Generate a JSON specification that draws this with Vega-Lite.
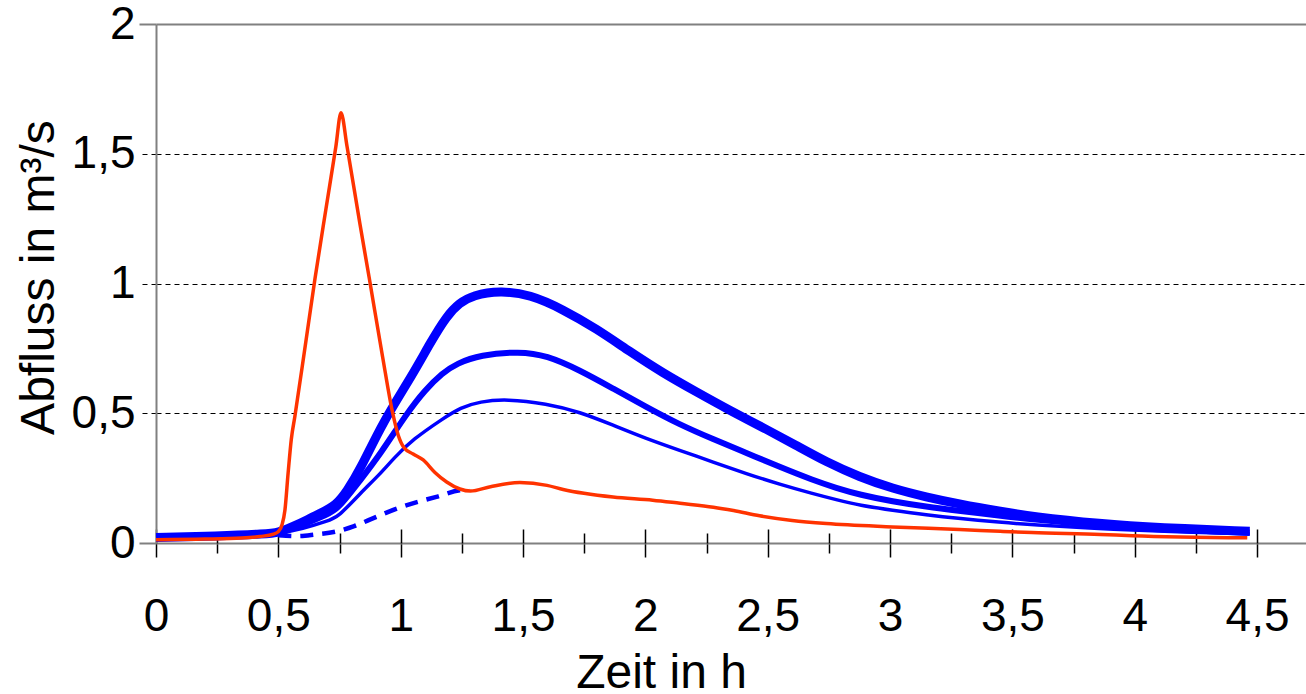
{
  "$schema": "https://vega.github.io/schema/vega-lite/v6.json",
  "width": 1150,
  "height": 519,
  "autosize": {"type": "none"},
  "padding": {"left": 156, "top": 24, "right": 0, "bottom": 151},
  "background": "white",
  "config": {
    "view": {"stroke": null},
    "font": "Liberation Sans",
    "axis": {
      "labelFont": "Liberation Sans",
      "titleFont": "Liberation Sans",
      "labelFontSize": 46,
      "titleFontSize": 48,
      "titleFontWeight": "normal",
      "labelColor": "#000000",
      "titleColor": "#000000"
    }
  },
  "data": {
    "values": [
      {"s": "A", "t": 0, "q": 0.021}, {"s": "A", "t": 0.25, "q": 0.027}, {"s": "A", "t": 0.45, "q": 0.035}, {"s": "A", "t": 0.5, "q": 0.04},
      {"s": "A", "t": 0.56, "q": 0.063}, {"s": "A", "t": 0.62, "q": 0.09}, {"s": "A", "t": 0.67, "q": 0.114}, {"s": "A", "t": 0.737, "q": 0.146},
      {"s": "A", "t": 0.78, "q": 0.2}, {"s": "A", "t": 0.833, "q": 0.28}, {"s": "A", "t": 0.928, "q": 0.468}, {"s": "A", "t": 1.05, "q": 0.65},
      {"s": "A", "t": 1.12, "q": 0.77}, {"s": "A", "t": 1.188, "q": 0.875}, {"s": "A", "t": 1.24, "q": 0.925}, {"s": "A", "t": 1.296, "q": 0.955},
      {"s": "A", "t": 1.405, "q": 0.972}, {"s": "A", "t": 1.528, "q": 0.958}, {"s": "A", "t": 1.664, "q": 0.9}, {"s": "A", "t": 1.8, "q": 0.826},
      {"s": "A", "t": 1.936, "q": 0.738}, {"s": "A", "t": 2.072, "q": 0.655}, {"s": "A", "t": 2.209, "q": 0.582}, {"s": "A", "t": 2.345, "q": 0.511},
      {"s": "A", "t": 2.481, "q": 0.445}, {"s": "A", "t": 2.617, "q": 0.376}, {"s": "A", "t": 2.74, "q": 0.312}, {"s": "A", "t": 2.876, "q": 0.254},
      {"s": "A", "t": 3.01, "q": 0.21}, {"s": "A", "t": 3.148, "q": 0.177}, {"s": "A", "t": 3.284, "q": 0.15}, {"s": "A", "t": 3.45, "q": 0.122},
      {"s": "A", "t": 3.58, "q": 0.102}, {"s": "A", "t": 3.86, "q": 0.074}, {"s": "A", "t": 4.1, "q": 0.059}, {"s": "A", "t": 4.47, "q": 0.045},

      {"s": "B", "t": 0, "q": 0.02}, {"s": "B", "t": 0.25, "q": 0.024}, {"s": "B", "t": 0.5, "q": 0.035}, {"s": "B", "t": 0.6, "q": 0.07},
      {"s": "B", "t": 0.7, "q": 0.11}, {"s": "B", "t": 0.745, "q": 0.132}, {"s": "B", "t": 0.833, "q": 0.24}, {"s": "B", "t": 0.918, "q": 0.344},
      {"s": "B", "t": 1.025, "q": 0.5}, {"s": "B", "t": 1.1, "q": 0.59}, {"s": "B", "t": 1.17, "q": 0.655}, {"s": "B", "t": 1.23, "q": 0.692},
      {"s": "B", "t": 1.324, "q": 0.725}, {"s": "B", "t": 1.487, "q": 0.738}, {"s": "B", "t": 1.596, "q": 0.723}, {"s": "B", "t": 1.732, "q": 0.666},
      {"s": "B", "t": 1.868, "q": 0.595}, {"s": "B", "t": 2.004, "q": 0.524}, {"s": "B", "t": 2.14, "q": 0.456}, {"s": "B", "t": 2.277, "q": 0.4},
      {"s": "B", "t": 2.413, "q": 0.347}, {"s": "B", "t": 2.549, "q": 0.293}, {"s": "B", "t": 2.685, "q": 0.242}, {"s": "B", "t": 2.78, "q": 0.212},
      {"s": "B", "t": 2.876, "q": 0.186}, {"s": "B", "t": 3.01, "q": 0.16}, {"s": "B", "t": 3.148, "q": 0.14}, {"s": "B", "t": 3.284, "q": 0.124},
      {"s": "B", "t": 3.45, "q": 0.105}, {"s": "B", "t": 3.58, "q": 0.091}, {"s": "B", "t": 3.86, "q": 0.066}, {"s": "B", "t": 4.1, "q": 0.052},
      {"s": "B", "t": 4.47, "q": 0.04},

      {"s": "C", "t": 0, "q": 0.02}, {"s": "C", "t": 0.25, "q": 0.023}, {"s": "C", "t": 0.5, "q": 0.033}, {"s": "C", "t": 0.6, "q": 0.055},
      {"s": "C", "t": 0.7, "q": 0.085}, {"s": "C", "t": 0.745, "q": 0.1}, {"s": "C", "t": 0.833, "q": 0.19}, {"s": "C", "t": 0.918, "q": 0.268},
      {"s": "C", "t": 0.97, "q": 0.325}, {"s": "C", "t": 1.05, "q": 0.4}, {"s": "C", "t": 1.174, "q": 0.48}, {"s": "C", "t": 1.244, "q": 0.522},
      {"s": "C", "t": 1.324, "q": 0.545}, {"s": "C", "t": 1.433, "q": 0.555}, {"s": "C", "t": 1.596, "q": 0.537}, {"s": "C", "t": 1.732, "q": 0.505},
      {"s": "C", "t": 1.868, "q": 0.454}, {"s": "C", "t": 2.004, "q": 0.402}, {"s": "C", "t": 2.14, "q": 0.357}, {"s": "C", "t": 2.277, "q": 0.312},
      {"s": "C", "t": 2.413, "q": 0.267}, {"s": "C", "t": 2.549, "q": 0.226}, {"s": "C", "t": 2.685, "q": 0.19}, {"s": "C", "t": 2.78, "q": 0.167},
      {"s": "C", "t": 2.876, "q": 0.145}, {"s": "C", "t": 3.01, "q": 0.126}, {"s": "C", "t": 3.148, "q": 0.108}, {"s": "C", "t": 3.284, "q": 0.094},
      {"s": "C", "t": 3.45, "q": 0.08}, {"s": "C", "t": 3.58, "q": 0.07}, {"s": "C", "t": 3.86, "q": 0.055}, {"s": "C", "t": 4.1, "q": 0.045},
      {"s": "C", "t": 4.47, "q": 0.035},

      {"s": "D", "t": 0.5, "q": 0.03}, {"s": "D", "t": 0.58, "q": 0.027}, {"s": "D", "t": 0.65, "q": 0.033}, {"s": "D", "t": 0.74, "q": 0.045},
      {"s": "D", "t": 0.81, "q": 0.065}, {"s": "D", "t": 0.874, "q": 0.09}, {"s": "D", "t": 1.0, "q": 0.138}, {"s": "D", "t": 1.146, "q": 0.178},
      {"s": "D", "t": 1.242, "q": 0.203}, {"s": "D", "t": 1.28, "q": 0.205},

      {"s": "R", "t": 0, "q": 0.013}, {"s": "R", "t": 0.2, "q": 0.015}, {"s": "R", "t": 0.35, "q": 0.019}, {"s": "R", "t": 0.425, "q": 0.025},
      {"s": "R", "t": 0.48, "q": 0.034}, {"s": "R", "t": 0.5, "q": 0.044}, {"s": "R", "t": 0.515, "q": 0.07}, {"s": "R", "t": 0.527, "q": 0.127},
      {"s": "R", "t": 0.54, "q": 0.27}, {"s": "R", "t": 0.553, "q": 0.4}, {"s": "R", "t": 0.568, "q": 0.49}, {"s": "R", "t": 0.61, "q": 0.76},
      {"s": "R", "t": 0.65, "q": 1.02}, {"s": "R", "t": 0.695, "q": 1.29}, {"s": "R", "t": 0.735, "q": 1.527}, {"s": "R", "t": 0.756, "q": 1.658},
      {"s": "R", "t": 0.781, "q": 1.527}, {"s": "R", "t": 0.833, "q": 1.232}, {"s": "R", "t": 0.871, "q": 1.024}, {"s": "R", "t": 0.926, "q": 0.718},
      {"s": "R", "t": 0.967, "q": 0.502}, {"s": "R", "t": 0.99, "q": 0.415}, {"s": "R", "t": 1.013, "q": 0.368}, {"s": "R", "t": 1.051, "q": 0.343},
      {"s": "R", "t": 1.092, "q": 0.32}, {"s": "R", "t": 1.14, "q": 0.272}, {"s": "R", "t": 1.188, "q": 0.235}, {"s": "R", "t": 1.242, "q": 0.208},
      {"s": "R", "t": 1.285, "q": 0.2}, {"s": "R", "t": 1.367, "q": 0.217}, {"s": "R", "t": 1.487, "q": 0.233}, {"s": "R", "t": 1.598, "q": 0.222},
      {"s": "R", "t": 1.664, "q": 0.206}, {"s": "R", "t": 1.868, "q": 0.177}, {"s": "R", "t": 2.03, "q": 0.165}, {"s": "R", "t": 2.142, "q": 0.153},
      {"s": "R", "t": 2.278, "q": 0.138}, {"s": "R", "t": 2.36, "q": 0.125}, {"s": "R", "t": 2.467, "q": 0.105}, {"s": "R", "t": 2.6, "q": 0.087},
      {"s": "R", "t": 2.74, "q": 0.075}, {"s": "R", "t": 3.01, "q": 0.062}, {"s": "R", "t": 3.284, "q": 0.052}, {"s": "R", "t": 3.45, "q": 0.045},
      {"s": "R", "t": 3.58, "q": 0.04}, {"s": "R", "t": 3.86, "q": 0.033}, {"s": "R", "t": 3.99, "q": 0.028}, {"s": "R", "t": 4.46, "q": 0.02}
    ]
  },
  "encoding": {
    "x": {"field": "t", "type": "quantitative", "scale": {"domain": [0, 4.7], "nice": false, "zero": false}, "axis": null},
    "y": {
      "field": "q",
      "type": "quantitative",
      "scale": {"domain": [0, 2], "nice": false, "zero": false},
      "axis": {
        "values": [0, 0.5, 1, 1.5, 2],
        "labelExpr": "replace('' + datum.value, '.', ',')",
        "labelPadding": 4,
        "labelBound": false,
        "labelOverlap": false,
        "labelFlush": false,
        "domainColor": "#808080",
        "domainWidth": 2,
        "tickSize": 17,
        "tickColor": {"condition": {"test": "datum.value == 0 || datum.value == 2", "value": "#808080"}, "value": "#000000"},
        "tickWidth": {"condition": {"test": "datum.value == 0 || datum.value == 2", "value": 2}, "value": 1},
        "tickDash": {"condition": {"test": "datum.value == 0 || datum.value == 2", "value": []}, "value": [5, 4]},
        "grid": true,
        "gridColor": {"condition": {"test": "datum.value == 2", "value": "#808080"}, "value": "#000000"},
        "gridWidth": {"condition": {"test": "datum.value == 2", "value": 2}, "value": 1},
        "gridDash": {"condition": {"test": "datum.value == 2", "value": []}, "value": [5, 4]},
        "gridOpacity": {"condition": {"test": "datum.value == 0", "value": 0}, "value": 1},
        "title": "Abfluss in m³/s",
        "titleX": -103,
        "titleY": 253,
        "titleAngle": -90,
        "titleAlign": "center",
        "titleBaseline": "alphabetic"
      }
    }
  },
  "layer": [
    {
      "transform": [{"filter": "datum.s == 'A'"}],
      "mark": {"type": "line", "color": "#0000ff", "strokeWidth": 9, "interpolate": "basis", "strokeJoin": "round"},
      "encoding": {
        "x": {
          "field": "t", "type": "quantitative", "scale": {"domain": [0, 4.7], "nice": false, "zero": false},
          "axis": {
            "orient": "bottom",
            "values": [0, 0.25, 0.5, 0.75, 1, 1.25, 1.5, 1.75, 2, 2.25, 2.5, 2.75, 3, 3.25, 3.5, 3.75, 4, 4.25, 4.5],
            "labelExpr": "(datum.value * 2) % 1 == 0 ? replace('' + datum.value, '.', ',') : ''",
            "labelBaseline": "alphabetic",
            "labelPadding": 73,
            "labelFlush": false,
            "labelBound": false,
            "labelOverlap": false,
            "tickSize": {"condition": {"test": "(datum.value * 2) % 1 == 0", "value": 14}, "value": 10},
            "tickColor": "#000000",
            "tickWidth": 1.5,
            "domainColor": "#808080",
            "domainWidth": 2,
            "grid": false,
            "title": "Zeit in h",
            "titleX": 505,
            "titleY": 144,
            "titleAlign": "center",
            "titleBaseline": "alphabetic"
          }
        }
      }
    },
    {
      "transform": [{"filter": "datum.s == 'B'"}],
      "mark": {"type": "line", "color": "#0000ff", "strokeWidth": 6, "interpolate": "basis", "strokeJoin": "round"},
      "encoding": {
        "x": {
          "field": "t", "type": "quantitative", "scale": {"domain": [0, 4.7], "nice": false, "zero": false},
          "axis": {
            "orient": "top",
            "offset": -519,
            "values": [0, 0.25, 0.5, 0.75, 1, 1.25, 1.5, 1.75, 2, 2.25, 2.5, 2.75, 3, 3.25, 3.5, 3.75, 4, 4.25, 4.5],
            "labels": false,
            "domain": false,
            "grid": false,
            "title": null,
            "tickSize": {"condition": {"test": "(datum.value * 2) % 1 == 0", "value": 14}, "value": 10},
            "tickColor": "#000000",
            "tickWidth": 1.5
          }
        }
      }
    },
    {
      "transform": [{"filter": "datum.s == 'C'"}],
      "mark": {"type": "line", "color": "#0000ff", "strokeWidth": 3.5, "interpolate": "basis", "strokeJoin": "round"},
      "encoding": {}
    },
    {
      "transform": [{"filter": "datum.s == 'D'"}],
      "mark": {"type": "line", "color": "#0000ff", "strokeWidth": 4.5, "strokeDash": [13, 9], "interpolate": "monotone"},
      "encoding": {}
    },
    {
      "transform": [{"filter": "datum.s == 'R'"}],
      "mark": {"type": "line", "color": "#ff3300", "strokeWidth": 3.5, "interpolate": "monotone", "strokeJoin": "round"},
      "encoding": {}
    }
  ],
  "resolve": {"axis": {"x": "independent"}}
}
